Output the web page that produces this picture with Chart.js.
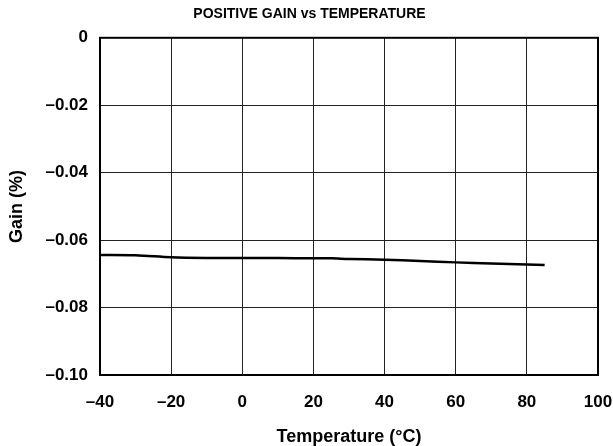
<!DOCTYPE html>
<html>
<head>
<meta charset="utf-8">
<script src="https://cdn.jsdelivr.net/npm/chart.js@4/dist/chart.umd.min.js"></script>
<style>
  html, body { margin: 0; padding: 0; background: #fff; }
  #wrap { width: 613px; height: 446px; }
</style>
</head>
<body>
<div id="wrap"><canvas id="gainChart" width="613" height="446"></canvas></div>
<script>
// Temperature (°C) and positive gain error (%)
const temperatures = [-40, -30, -20, -10, 0, 10, 20, 25, 30, 40, 50, 60, 70, 80, 85];
const gainValues = [-0.0644, -0.0645, -0.0651, -0.0653, -0.0653, -0.0653, -0.0654, -0.0654,
                    -0.0656, -0.0658, -0.0662, -0.0666, -0.0669, -0.0672, -0.0674];
const xTicks = [-40, -20, 0, 20, 40, 60, 80, 100];
const yTicks = [0, -0.02, -0.04, -0.06, -0.08, -0.10];

const fontFamily = '"Liberation Sans", Arial, Helvetica, sans-serif';
const minus = v => (v < 0 ? '\u2013' : '');

const points = temperatures.map((t, i) => ({ x: t, y: gainValues[i] }));

new Chart(document.getElementById('gainChart'), {
    type: 'scatter',
    data: {
        datasets: [{
            data: points,
            showLine: true,
            borderColor: '#000',
            borderWidth: 2.5,
            pointRadius: 0,
            tension: 0.3
        }]
    },
    options: {
        responsive: false,
        animation: false,
        layout: { padding: { left: 6, right: 0, top: 0, bottom: 0 } },
        plugins: {
            legend: { display: false },
            tooltip: { enabled: false },
            title: {
                display: true,
                text: 'POSITIVE GAIN vs TEMPERATURE',
                color: '#000',
                font: { family: fontFamily, size: 14, weight: 'bold' },
                padding: { top: 6, bottom: 15 }
            }
        },
        scales: {
            x: {
                type: 'linear',
                min: -40,
                max: 100,
                afterBuildTicks: axis => { axis.ticks = xTicks.map(v => ({ value: v })); },
                afterFit: axis => {
                    axis.height = 71;
                    axis.paddingLeft = 0;
                    axis.paddingRight = 15;
                },
                ticks: {
                    color: '#000',
                    font: { family: fontFamily, size: 17, weight: 'bold' },
                    padding: 17,
                    maxRotation: 0,
                    callback: v => minus(v) + Math.abs(v)
                },
                grid: { color: '#222', lineWidth: 1, drawTicks: false },
                border: { color: '#000', width: 2 },
                title: {
                    display: true,
                    text: 'Temperature (°C)',
                    color: '#000',
                    font: { family: fontFamily, size: 18, weight: 'bold', lineHeight: 1 },
                    padding: { top: 0, bottom: 0 }
                }
            },
            y: {
                type: 'linear',
                min: -0.1,
                max: 0,
                afterBuildTicks: axis => { axis.ticks = yTicks.map(v => ({ value: v })); },
                afterFit: axis => { axis.width = 94; },
                ticks: {
                    color: '#000',
                    font: { family: fontFamily, size: 17, weight: 'bold' },
                    padding: 12,
                    callback: v => (v === 0 ? '0' : minus(v) + Math.abs(v).toFixed(2))
                },
                grid: { color: '#222', lineWidth: 1, drawTicks: false },
                border: { color: '#000', width: 2 },
                title: {
                    display: true,
                    text: 'Gain (%)',
                    color: '#000',
                    font: { family: fontFamily, size: 18, weight: 'bold', lineHeight: 1 },
                    padding: { top: 2, bottom: 0 }
                }
            }
        }
    },
    plugins: [{
        // close the frame on the top and right sides
        id: 'frame',
        afterDraw(chart) {
            const { ctx, chartArea: a } = chart;
            ctx.save();
            ctx.strokeStyle = '#000';
            ctx.lineWidth = 2;
            ctx.strokeRect(a.left, a.top, a.right - a.left, a.bottom - a.top);
            ctx.restore();
        }
    }]
});
</script>
</body>
</html>
